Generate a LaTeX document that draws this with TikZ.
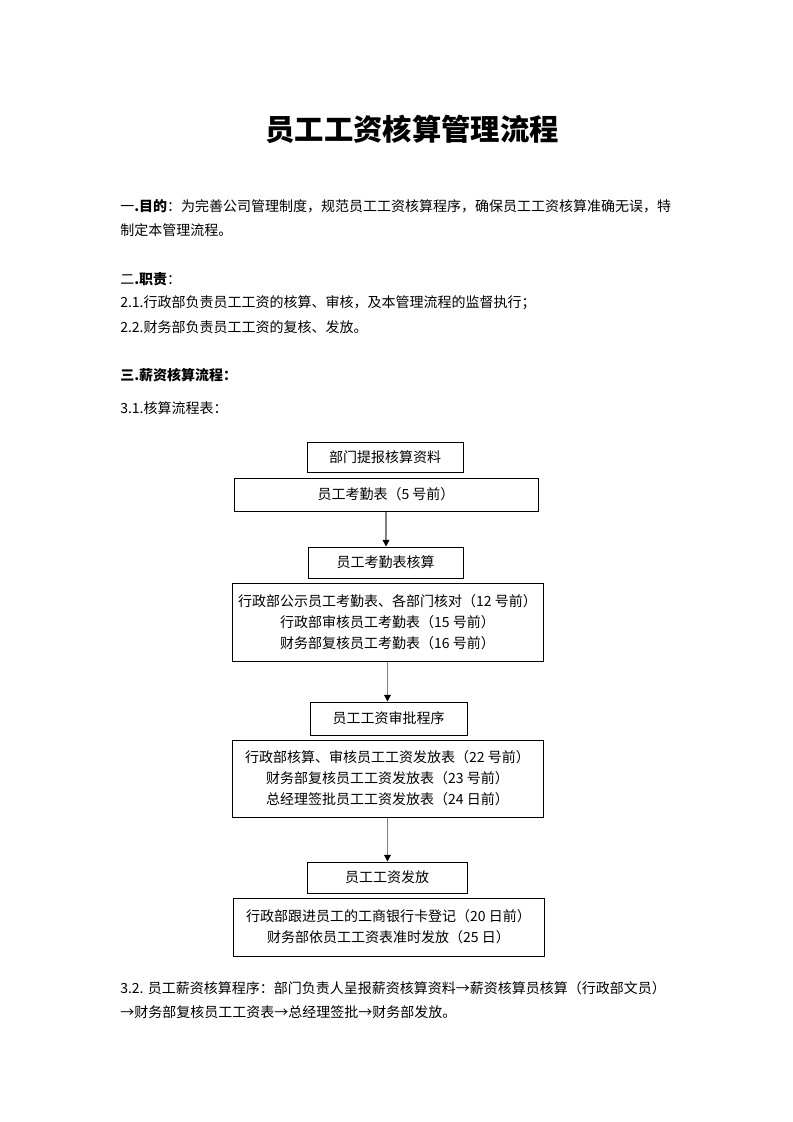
\documentclass[tikz,border=0pt]{standalone}
\usepackage{fontspec}
\setmainfont{Noto Sans CJK SC}
\usetikzlibrary{arrows.meta}

\begin{document}
\begin{tikzpicture}[x=0.75pt, y=-0.75pt,
  every node/.style={font=\fontsize{10.5pt}{15.75pt}\selectfont, inner sep=0pt},
  line/.style={anchor=west},
  box/.style={draw, line width=0.75pt, align=center},
  flow/.style={draw=black!50, line width=1pt, -{Triangle[width=5pt,length=5pt,fill=black,color=black]}}]
\useasboundingbox [fill=white] (0,0) rectangle (793,1122);
% title
\node [font=\fontsize{22pt}{26pt}\selectfont\bfseries] (title) at (412,129) {员工工资核算管理流程};
% text
\node [line] (l1) at (120,206) {一\textbf{.目的}：为完善公司管理制度，规范员工工资核算程序，确保员工工资核算准确无误，特};
\node [line] (l2) at (120,230) {制定本管理流程。};
\node [line] (l3) at (120,279) {二\textbf{.职责}：};
\node [line] (l4) at (120,303) {2.1.行政部负责员工工资的核算、审核，及本管理流程的监督执行；};
\node [line] (l5) at (120,327) {2.2.财务部负责员工工资的复核、发放。};
\node [line] (l6) at (120,375) {\textbf{三.薪资核算流程：}};
\node [line] (l7) at (120,408) {3.1.核算流程表：};
% flow boxes
\node [box, minimum width=117pt, minimum height=22.5pt] (tb) at (385,457) {部门提报核算资料};
\node [box, minimum width=228pt, minimum height=24.75pt] (kq) at (386,494.5) {员工考勤表（5 号前）};
\node [box, minimum width=116.25pt, minimum height=23.25pt] (kqhs) at (385.5,562.5) {员工考勤表核算};
\node [box, minimum width=233.25pt, minimum height=58.5pt] (kqsh) at (387.5,622)
  {行政部公示员工考勤表、各部门核对（12 号前）\\行政部审核员工考勤表（15 号前）\\财务部复核员工考勤表（16 号前）};
\node [box, minimum width=117.75pt, minimum height=24.75pt] (sp) at (388.5,718.5) {员工工资审批程序};
\node [box, minimum width=233.25pt, minimum height=57.75pt] (spsh) at (387.5,778.5)
  {行政部核算、审核员工工资发放表（22 号前）\\财务部复核员工工资发放表（23 号前）\\总经理签批员工工资发放表（24 日前）};
\node [box, minimum width=120pt, minimum height=23.25pt] (ff) at (387,877.5) {员工工资发放};
\node [box, minimum width=233.25pt, minimum height=43.5pt] (ffsh) at (388.5,927)
  {行政部跟进员工的工商银行卡登记（20 日前）\\财务部依员工工资表准时发放（25 日）};
\draw [flow] (kq.south) -- (kq.south |- kqhs.north);
\draw [flow] (kqsh.south) -- (kqsh.south |- sp.north);
\draw [flow] (spsh.south) -- (spsh.south |- ff.north);
% 3.2
\node [line] (l8) at (120,988) {3.2. 员工薪资核算程序：部门负责人呈报薪资核算资料→薪资核算员核算（行政部文员）};
\node [line] (l9) at (120,1012) {→财务部复核员工工资表→总经理签批→财务部发放。};
\end{tikzpicture}
\end{document}
